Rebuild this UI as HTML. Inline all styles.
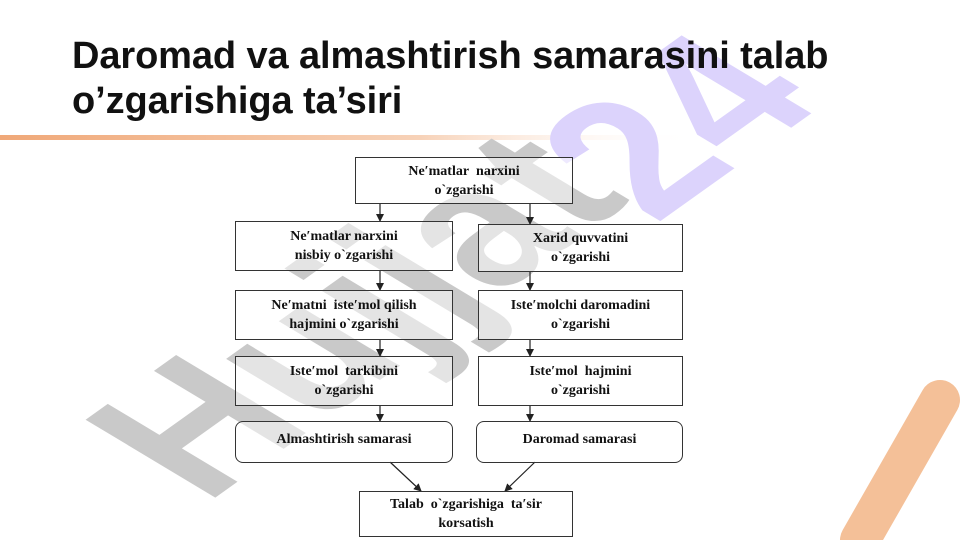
<!DOCTYPE html>
<html><head><meta charset="utf-8"><style>
body{margin:0;width:961px;height:540px;overflow:hidden;background:#fff;position:relative;font-family:"Liberation Sans",sans-serif}
.t{position:absolute;left:72px;top:34px;font-size:38px;font-weight:bold;line-height:45px;color:#111;letter-spacing:-0.1px;white-space:nowrap}
.b{position:absolute;border:1.5px solid #333;box-sizing:border-box;display:flex;align-items:center;justify-content:center;text-align:center;font-family:"Liberation Serif",serif;font-weight:bold;font-size:14px;line-height:19px;color:#111;background:rgba(255,255,255,0.5)}
.r{border-radius:8px}
</style></head><body>
<svg width="961" height="540" style="position:absolute;left:0;top:0">
<defs><linearGradient id="g" x1="0" x2="1"><stop offset="0" stop-color="#f0a878"/><stop offset="0.6" stop-color="#f7d2b8"/><stop offset="1" stop-color="#fff" stop-opacity="0"/></linearGradient>
<marker id="a" markerWidth="8" markerHeight="8" refX="7" refY="4" orient="auto" markerUnits="userSpaceOnUse"><path d="M0,0 L8,4 L0,8z" fill="#222"/></marker></defs>
<rect x="0" y="135" width="700" height="5" fill="url(#g)"/>
<text transform="matrix(0.7,-0.5,0.857,0.515,205,505)" font-family="Liberation Sans" font-weight="bold" font-size="220" fill="#c9c9c9">Hujjat</text>
<text transform="matrix(0.7,-0.5,0.857,0.515,655,225)" font-family="Liberation Sans" font-weight="bold" font-size="220" fill="#dcd3fc">24</text>
<path d="M940,400 L860,540" stroke="#f4c098" stroke-width="40" stroke-linecap="round"/>
<g stroke="#222" stroke-width="1.2" fill="none" marker-end="url(#a)">
<line x1="380" y1="203" x2="380" y2="221"/><line x1="530" y1="203" x2="530" y2="224"/>
<line x1="380" y1="270" x2="380" y2="290"/><line x1="530" y1="271" x2="530" y2="290"/>
<line x1="380" y1="339" x2="380" y2="356"/><line x1="530" y1="339" x2="530" y2="356"/>
<line x1="380" y1="405" x2="380" y2="421"/><line x1="530" y1="405" x2="530" y2="421"/>
<line x1="390" y1="462" x2="421" y2="491"/><line x1="535" y1="462" x2="505" y2="491"/>
</g></svg>
<div class="t">Daromad va almashtirish samarasini talab<br>o’zgarishiga ta’siri</div>
<div class="b" style="left:355px;top:157px;width:218px;height:47px">Ne′matlar&nbsp; narxini<br>o`zgarishi</div>
<div class="b" style="left:235px;top:221px;width:218px;height:50px">Ne′matlar narxini<br>nisbiy o`zgarishi</div>
<div class="b" style="left:478px;top:224px;width:205px;height:48px">Xarid quvvatini<br>o`zgarishi</div>
<div class="b" style="left:235px;top:290px;width:218px;height:50px">Ne′matni&nbsp; iste′mol qilish<br>hajmini o`zgarishi</div>
<div class="b" style="left:478px;top:290px;width:205px;height:50px">Iste′molchi daromadini<br>o`zgarishi</div>
<div class="b" style="left:235px;top:356px;width:218px;height:50px">Iste′mol&nbsp; tarkibini<br>o`zgarishi</div>
<div class="b" style="left:478px;top:356px;width:205px;height:50px">Iste′mol&nbsp; hajmini<br>o`zgarishi</div>
<div class="b r" style="left:235px;top:421px;width:218px;height:42px;align-items:flex-start;padding-top:8px">Almashtirish samarasi</div>
<div class="b r" style="left:476px;top:421px;width:207px;height:42px;align-items:flex-start;padding-top:8px">Daromad samarasi</div>
<div class="b" style="left:359px;top:491px;width:214px;height:46px">Talab&nbsp; o`zgarishiga&nbsp; ta′sir<br>korsatish</div>
</body></html>
